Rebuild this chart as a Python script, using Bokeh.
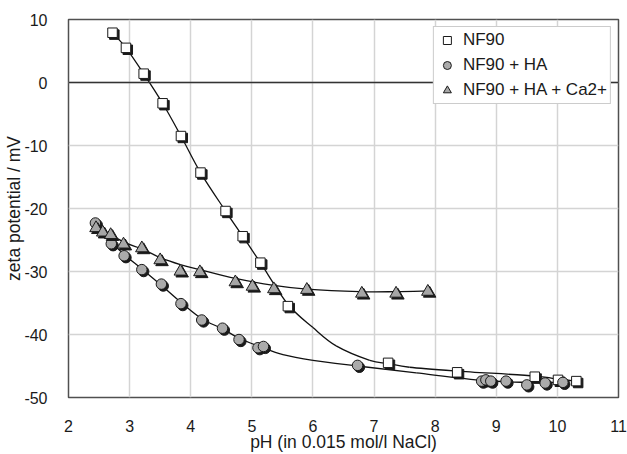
from bokeh.plotting import figure
from bokeh.models import (ColumnDataSource, Range1d, FixedTicker, Span, Legend,
                          LegendItem)
from bokeh.transform import dodge
from bokeh.embed import file_html
from bokeh.resources import INLINE

nf90_x = [2.72, 2.94, 3.23, 3.54, 3.84, 4.16, 4.57, 4.85, 5.14, 5.59, 7.23, 8.36, 9.63, 10.01, 10.31]
nf90_y = [7.9, 5.5, 1.4, -3.3, -8.5, -14.3, -20.4, -24.4, -28.6, -35.5, -44.5, -46.0, -46.7, -47.2, -47.4]

ha_x = [2.44, 2.70, 2.91, 3.20, 3.52, 3.84, 4.18, 4.52, 4.79, 5.10, 5.19, 6.73,
        8.76, 8.83, 8.91, 9.16, 9.50, 9.80, 10.09]
ha_y = [-22.3, -25.6, -27.5, -29.7, -32.0, -35.1, -37.7, -39.0, -40.8, -42.1, -41.9, -44.9,
        -47.4, -47.2, -47.4, -47.4, -48.0, -47.7, -47.6]

ca_x = [2.45, 2.56, 2.69, 2.90, 3.20, 3.50, 3.83, 4.15, 4.73, 5.01, 5.36, 5.90, 6.80, 7.36, 7.88]
ca_y = [-23.1, -23.8, -24.2, -25.7, -26.3, -28.2, -30.0, -30.1, -31.7, -32.4, -32.8, -32.9, -33.5, -33.5, -33.2]

# ---- trend curves as drawn in the picture (traced) ----
nf90_curve_x = [2.72, 2.94, 3.23, 3.54, 3.84, 4.16, 4.57, 4.85, 5.14, 5.59, 6.00, 6.38, 6.93, 7.23, 7.58, 8.36, 9.63, 10.01, 10.31]
nf90_curve_y = [7.9, 5.5, 1.4, -3.3, -8.5, -14.3, -20.4, -24.4, -28.6, -35.2, -38.9, -41.8, -44.1, -44.6, -45.2, -45.8, -46.6, -47.1, -47.4]

ha_curve_x = [2.44, 2.70, 2.91, 3.20, 3.52, 3.84, 4.18, 4.52, 4.79, 5.13, 5.51, 6.00, 6.73, 7.69, 8.80, 9.50, 10.09]
ha_curve_y = [-22.3, -25.3, -27.3, -29.6, -32.2, -34.9, -37.5, -39.1, -40.6, -41.9, -43.2, -44.1, -45.0, -46.1, -47.3, -47.6, -47.6]

ca_curve_x = [2.45, 2.90, 3.20, 3.50, 3.83, 4.15, 4.73, 5.36, 5.90, 6.76, 7.36, 7.88]
ca_curve_y = [-22.8, -25.3, -26.4, -27.8, -28.9, -29.7, -31.1, -32.2, -32.8, -33.2, -33.2, -33.1]

x_ticks = [2, 3, 4, 5, 6, 7, 8, 9, 10, 11]
y_ticks = [-50, -40, -30, -20, -10, 0, 10]

FONT = "Liberation Sans"

p = figure(width=627, height=454, output_backend="svg", toolbar_location=None,
           x_range=Range1d(2, 11), y_range=Range1d(-50, 10),
           min_border_left=68, min_border_right=9, min_border_top=19, min_border_bottom=53)
p.background_fill_color = "white"
p.border_fill_color = "white"
p.outline_line_color = "#505050"
p.outline_line_width = 1.5

for ax in (p.xaxis[0], p.yaxis[0]):
    ax.axis_line_color = None
    ax.major_tick_line_color = None
    ax.minor_tick_line_color = None
    ax.major_label_text_font = FONT
    ax.major_label_text_font_size = "16px"
    ax.major_label_text_color = "#1a1a1a"
    ax.axis_label_text_font = FONT
    ax.axis_label_text_font_size = "17.5px"
    ax.axis_label_text_font_style = "normal"
    ax.axis_label_text_color = "#1a1a1a"

p.xaxis.ticker = FixedTicker(ticks=x_ticks)
p.yaxis.ticker = FixedTicker(ticks=y_ticks)
p.yaxis.major_label_overrides = {t: str(t) for t in y_ticks}
p.xaxis.axis_label = "pH (in 0.015 mol/l NaCl)"
p.yaxis.axis_label = "zeta potential / mV"
p.xaxis.major_label_standoff = 16
p.xaxis.axis_label_standoff = -3
p.yaxis.major_label_standoff = 15
p.yaxis.axis_label_standoff = -3

p.xgrid.grid_line_color = "#d4d4d4"
p.ygrid.grid_line_color = "#d4d4d4"
p.xgrid.grid_line_width = 1.5
p.ygrid.grid_line_width = 1.5

p.add_layout(Span(location=0, dimension="width", line_color="#333333", line_width=1.5))


def smooth_segments(xs, ys):
    n = len(xs)
    d = dict(x0=[], y0=[], x1=[], y1=[], cx0=[], cy0=[], cx1=[], cy1=[])
    for i in range(n - 1):
        i0 = max(i - 1, 0)
        i3 = min(i + 2, n - 1)
        d["x0"].append(xs[i]); d["y0"].append(ys[i])
        d["x1"].append(xs[i + 1]); d["y1"].append(ys[i + 1])
        d["cx0"].append(xs[i] + (xs[i + 1] - xs[i0]) / 6.0)
        d["cy0"].append(ys[i] + (ys[i + 1] - ys[i0]) / 6.0)
        d["cx1"].append(xs[i + 1] - (xs[i3] - xs[i]) / 6.0)
        d["cy1"].append(ys[i + 1] - (ys[i3] - ys[i]) / 6.0)
    return ColumnDataSource(d)


for cx, cy in ((nf90_curve_x, nf90_curve_y), (ha_curve_x, ha_curve_y), (ca_curve_x, ca_curve_y)):
    p.bezier(x0="x0", y0="y0", x1="x1", y1="y1", cx0="cx0", cy0="cy0", cx1="cx1", cy1="cy1",
             source=smooth_segments(cx, cy), line_color="#111111", line_width=1.3)

SHX, SHY = 0.03, -0.3
renderers = []
specs = [
    (nf90_x, nf90_y, "square", 9.5, "white"),
    (ha_x, ha_y, "circle", 10.5, "#ababab"),
    (ca_x, ca_y, "triangle", 12.5, "#a6a6a6"),
]
for xs, ys, marker, size, fill in specs:
    src = ColumnDataSource(dict(x=xs, y=ys))
    p.scatter(x=dodge("x", SHX), y=dodge("y", SHY), source=src, marker=marker, size=size,
              fill_color="#1a1a1a", line_color="#1a1a1a", line_width=1)
    r = p.scatter(x="x", y="y", source=src, marker=marker, size=size,
                  fill_color=fill, line_color="#1a1a1a", line_width=1)
    renderers.append(r)

legend = Legend(items=[
    LegendItem(label="NF90", renderers=[renderers[0]]),
    LegendItem(label="NF90 + HA", renderers=[renderers[1]]),
    LegendItem(label="NF90 + HA + Ca2+", renderers=[renderers[2]]),
], location="top_right")
legend.margin = 7
legend.padding = 3
legend.spacing = 5
legend.glyph_width = 20
legend.glyph_height = 20
legend.label_standoff = 6
legend.label_text_font = FONT
legend.label_text_font_size = "17px"
legend.label_text_color = "#1a1a1a"
legend.border_line_color = "#9a9a9a"
legend.border_line_width = 1.5
legend.background_fill_color = "white"
legend.background_fill_alpha = 1.0
p.add_layout(legend)

open("out.html", "w").write(file_html(p, INLINE))
